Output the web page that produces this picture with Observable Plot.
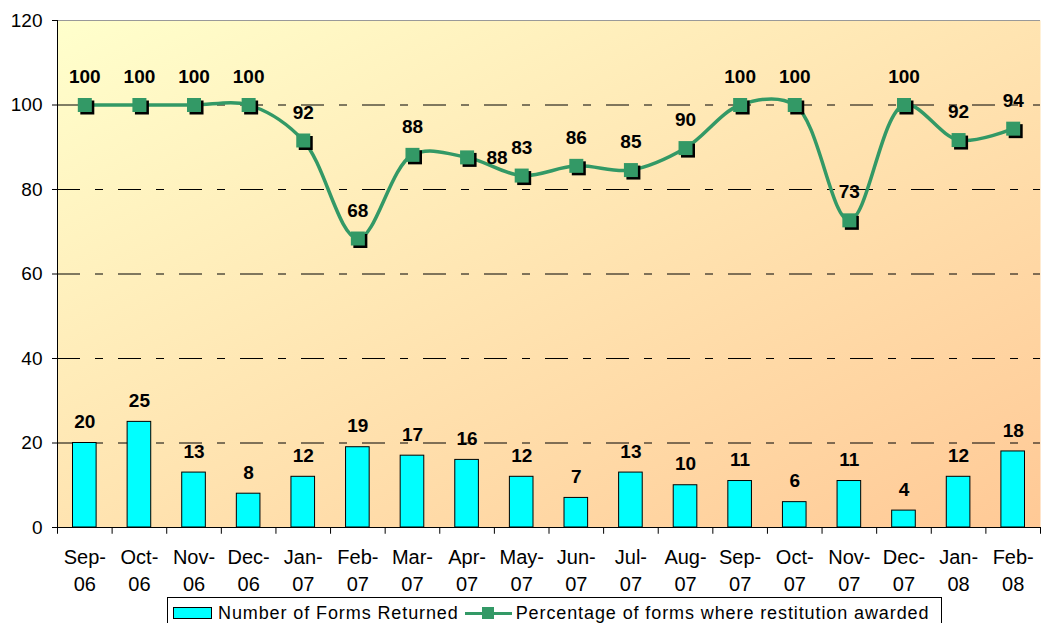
<!DOCTYPE html>
<html><head><meta charset="utf-8">
<script src="https://cdn.jsdelivr.net/npm/d3@7"></script>
<script src="https://cdn.jsdelivr.net/npm/@observablehq/plot@0.6"></script>
<style>
body{margin:0;background:#fff;font-family:"Liberation Sans",Arial,sans-serif;}
#wrap{position:relative;width:1041px;height:623px;overflow:hidden;background:#fff}
#chart svg{display:block}
#legend{position:absolute;left:167px;top:597px;width:775px;height:32px;border:1px solid #000;background:#fff;box-sizing:border-box;display:flex;align-items:center;font-size:18px;letter-spacing:0.9px;color:#000;white-space:nowrap}
.sw{display:inline-block;width:39px;height:12px;background:#00FFFF;border:1px solid #000;margin-left:5px;margin-right:6px;box-sizing:border-box}
.ln{display:inline-block;position:relative;width:47px;height:14px;margin-left:6px;margin-right:4px}
.ln:before{content:"";position:absolute;left:0;right:0;top:5.5px;height:3px;background:#339966}
.ln:after{content:"";position:absolute;left:17px;top:1px;width:12px;height:12px;background:#339966}
</style></head>
<body><div id="wrap"><div id="chart"></div><div id="legend"></div></div>
<script>
const months = ["Sep-06","Oct-06","Nov-06","Dec-06","Jan-07","Feb-07","Mar-07","Apr-07","May-07","Jun-07","Jul-07","Aug-07","Sep-07","Oct-07","Nov-07","Dec-07","Jan-08","Feb-08"];
const formsReturned = [20,25,13,8,12,19,17,16,12,7,13,10,11,6,11,4,12,18];
const pctAwarded = [100,100,100,100,91.6,68.4,88.2,87.6,83.3,85.6,84.6,89.8,100,100,72.7,100,91.7,94.4];
const yTicks = [0,20,40,60,80,100,120];
const gridTicks = [20,40,60,80,100];
const seriesNames = ["Number of Forms Returned","Percentage of forms where restitution awarded"];

const W = 1041, H = 596, mL = 57, mR = 1, mT = 20, mB = 69;
const step = (W - mL - mR) / months.length;
const data = months.map((m, i) => ({month: m, forms: formsReturned[i], pct: pctAwarded[i]}));
const green = "#339966";

const chart = Plot.plot({
  width: W, height: H,
  marginLeft: mL, marginRight: mR, marginTop: mT, marginBottom: mB,
  style: {fontFamily: "'Liberation Sans', Arial, sans-serif", fontSize: "19px", color: "#000", background: "transparent", overflow: "visible"},
  x: {domain: months, padding: 0, round: false, label: null, axis: null},
  y: {domain: [0, 120], label: null, axis: null},
  marks: [
    Plot.frame({fill: "#FFE5B3", stroke: null}),
    Plot.ruleY(gridTicks, {stroke: "#000", strokeDasharray: "23,15,8,15"}),
    Plot.ruleY([120], {stroke: "#999"}),
    Plot.barY(data, {x: "month", y: "forms", fill: "#00FFFF", stroke: "#000", strokeWidth: 1, insetLeft: 15.5, insetRight: 15.5}),
    Plot.text(data, {x: "month", y: "forms", text: d => String(d.forms), dy: -21, fontWeight: "bold", fontSize: 19}),
    Plot.line(data, {x: "month", y: "pct", stroke: green, strokeWidth: 3.5, curve: "catmull-rom"}),
    Plot.dot(data, {x: "month", y: "pct", symbol: "square", r: 7.9, fill: "#000", stroke: null, dx: 2.5, dy: 2.5}),
    Plot.dot(data, {x: "month", y: "pct", symbol: "square", r: 7.9, fill: green, stroke: null}),
    Plot.text(data.filter(d => d.month !== "Apr-07"), {x: "month", y: "pct", text: d => String(Math.round(d.pct)), dy: -28, fontWeight: "bold", fontSize: 19}),
    Plot.text(data.filter(d => d.month === "Apr-07"), {x: "month", y: "pct", text: d => String(Math.round(d.pct)), dx: 30, dy: 1, fontWeight: "bold", fontSize: 19}),
    Plot.ruleY([0], {stroke: "#000"}),
    Plot.ruleX([months[0]], {dx: -step / 2, stroke: "#000"}),
    Plot.ruleX(months, {dx: -step / 2, y1: 0, y2: -1.6, stroke: "#000"}),
    Plot.ruleX([months[months.length - 1]], {dx: step / 2, y1: 0, y2: -1.6, stroke: "#000"}),
    Plot.axisY({ticks: yTicks, tickSize: 5, tickPadding: 10, fontSize: 19, tickFormat: d => String(d), anchor: "left", stroke: "#000"}),
    Plot.text(months, {x: d => d, frameAnchor: "bottom", dy: 17, lineAnchor: "top", lineHeight: 1.35, text: d => d.replace("-", "-\n"), fontSize: 20})
  ]
});

const svg = d3.select(chart);
const defs = svg.insert("defs", ":first-child");
const g = defs.append("linearGradient").attr("id", "bg").attr("x1", 0).attr("y1", 0).attr("x2", 1).attr("y2", 1);
g.append("stop").attr("offset", "0%").attr("stop-color", "#FFFFCC");
g.append("stop").attr("offset", "100%").attr("stop-color", "#FFC996");
chart.querySelectorAll('[aria-label="frame"]').forEach(el => {
  if (el.tagName.toLowerCase() === "rect") el.setAttribute("fill", "url(#bg)");
  el.querySelectorAll("rect").forEach(r => r.setAttribute("fill", "url(#bg)"));
});
document.getElementById("chart").appendChild(chart);

const lg = document.getElementById("legend");
lg.innerHTML = `<span class="sw"></span><span>${seriesNames[0]}</span><span class="ln"></span><span>${seriesNames[1]}</span>`;
</script>
</body></html>
